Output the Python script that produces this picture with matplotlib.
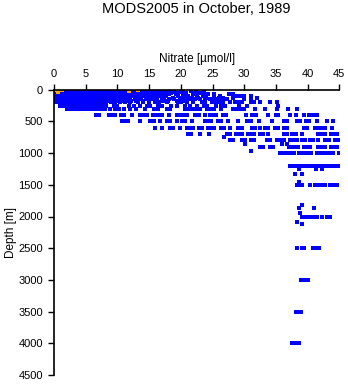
import matplotlib
matplotlib.use('Agg')
import matplotlib.pyplot as plt
import numpy as np

plt.rcParams['font.family'] = ['Liberation Sans', 'DejaVu Sans']

# nitrate profiles, grouped by sampling depth [m] -> nitrate [umol/l]
dense_a = [0.2, 0.6, 1.0, 1.4, 1.8, 2.2, 2.6, 3.0, 3.4, 3.8, 4.2, 4.6, 5.0,
           5.4, 5.8, 6.2, 6.6, 7.0, 7.4, 7.8, 8.2, 8.6, 9.0, 9.4, 9.8, 10.2]
dense_b = [0.2, 0.6, 1.0, 1.4, 1.8, 2.2, 2.6, 3.0, 3.4, 3.8, 4.2, 4.6, 5.0,
           5.4, 5.8, 6.2, 6.6, 7.0, 7.4, 7.8, 8.2]

lvl_0 = dense_a + [10.8, 11.4, 12.4, 13.0, 13.8, 14.5, 15.4, 16.2, 17.5]
lvl_10 = dense_a + [10.6, 11.2, 12.0, 12.8, 13.5, 14.2, 15.0, 16.0, 17.1, 18.3, 20.4]
lvl_20 = dense_a + [11.0, 11.8, 12.6, 13.4, 14.0, 14.8, 15.6, 16.6, 17.8, 19.0,
                    21.6, 23.6]
lvl_30 = dense_a + [10.7, 11.5, 12.3, 13.1, 14.4, 15.2, 16.3, 17.2, 18.7, 20.0, 22.4]
lvl_50 = dense_a + [10.9, 11.6, 12.5, 13.3, 14.1, 15.0, 15.8, 16.8, 17.6, 18.4,
                    19.5, 20.8, 22.0, 23.0]
lvl_75 = dense_a + [10.6, 11.3, 12.2, 13.0, 13.9, 14.7, 15.5, 16.4, 17.3, 18.1,
                    19.2, 20.5, 21.9, 23.7, 24.3, 25.3, 27.6, 28.2]
lvl_100 = dense_a + [10.8, 11.7, 12.6, 13.4, 14.3, 15.1, 15.9, 16.7, 17.6, 19.6,
                     20.3, 21.2, 22.5, 23.5, 26.2, 28.8, 29.5, 30.0, 31.0]
lvl_125 = dense_a + [10.5, 11.2, 12.0, 12.9, 13.7, 14.6, 15.4, 16.2, 17.4, 18.8,
                     19.9, 21.0, 21.8, 22.7, 24.0, 25.2, 26.0, 26.7, 28.3, 31.0, 32.0]
lvl_150 = dense_a + [10.9, 11.8, 12.7, 13.6, 14.5, 15.3, 16.1, 17.0, 18.2, 19.0,
                     20.5, 21.5, 22.2, 23.0, 23.8, 24.6, 25.5, 26.4, 27.3, 30.0]
lvl_175 = dense_a + [10.6, 11.4, 12.2, 13.0, 14.0, 15.0, 16.0, 17.2, 18.0, 19.4,
                     20.6, 22.0]
lvl_200 = dense_b + [9.0, 9.6, 10.4, 11.2, 12.0, 13.2, 14.0, 15.0, 16.0, 16.6,
                     17.8, 19.5, 20.0, 21.0, 22.0, 23.3, 23.8, 24.9, 25.5, 26.1,
                     26.7, 27.8, 28.6, 29.1, 29.6, 31.0, 31.5, 32.5, 34.0, 35.2]
lvl_250 = [1.0, 1.4, 1.8, 2.2, 2.6, 3.0, 3.4, 3.8, 4.2, 4.6, 5.0, 5.4, 5.8,
           6.2, 6.6, 7.0, 7.4, 7.8, 8.2, 9.4, 10.0, 11.8, 12.6, 13.5, 14.6,
           15.2, 16.4, 17.0, 18.5, 19.4, 20.6, 21.5, 22.5, 23.6, 24.2, 25.6,
           26.4, 27.0, 29.2, 30.4, 35.4]
lvl_300 = [2.0, 2.5, 3.0, 3.5, 4.0, 4.5, 5.0, 5.5, 6.0, 6.5, 7.0, 7.5, 8.0,
           8.8, 9.6, 10.2, 11.0, 12.0, 13.0, 14.4, 15.8, 16.4, 17.8, 18.3,
           20.7, 21.3, 21.9, 22.5, 23.0, 24.1, 24.7, 25.2, 26.3, 28.3, 28.9,
           29.4, 29.9, 31.7, 33.3, 35.2, 36.9, 38.3]
lvl_400 = [6.6, 7.1, 8.6, 9.1, 9.6, 10.6, 11.1, 12.3, 13.5,
           14.2, 14.7, 15.6, 16.1, 16.6, 17.1, 18.1, 19.4, 19.9,
           20.5, 21.0, 22.3, 22.8, 23.8, 24.6, 25.1, 25.6, 26.6,
           27.2, 30.3, 31.3, 31.9, 33.8, 35.0, 35.4, 37.3,
           38.1, 39.4, 40.2, 40.8, 41.5]
lvl_500 = [10.7, 11.2, 11.7, 13.6, 15.2, 15.7, 16.7, 17.8,
           18.3, 19.4, 20.2, 20.7, 21.7, 23.8, 24.3, 24.8,
           25.9, 26.4, 27.5, 29.0, 30.4, 31.0, 32.3, 34.4, 36.2, 36.7,
           38.3, 38.8, 39.7, 40.2, 41.5, 43.0, 44.0]
lvl_600 = [16.0, 17.0, 18.3, 18.8, 19.9, 21.0, 21.5, 22.0,
           22.8, 23.3, 24.3, 24.8, 25.3, 26.3, 26.8, 27.8,
           29.1, 29.6, 31.2, 31.7, 32.5, 33.3, 33.8, 34.9,
           35.4, 36.2, 36.7, 39.4, 39.9, 41.2, 41.7, 42.2, 42.7,
           43.8]
lvl_700 = [21.2, 21.6, 23.1, 24.4, 27.3, 27.8, 28.7, 29.1,
           29.6, 30.6, 31.0, 31.5, 32.5, 33.0, 33.8, 36.2,
           36.7, 37.6, 38.1, 39.1, 41.7, 42.2, 42.7, 43.7, 44.2, 44.7]
lvl_750 = [26.8]
lvl_800 = [27.8, 28.3, 29.6, 30.1, 31.0, 31.5, 33.6, 34.1, 35.2,
           35.7, 36.2, 37.2, 37.8, 38.3, 39.1, 39.6, 40.4, 40.9,
           41.7, 42.8, 43.3, 44.3, 44.8]
lvl_850 = [30.2, 36.0, 36.7]
lvl_900 = [32.5, 33.0, 34.1, 34.6, 37.0, 37.5, 38.0, 38.5, 39.4,
           39.9, 40.4, 41.7, 42.2, 42.7, 43.7, 44.2, 44.6]
lvl_970 = [31.0]
lvl_1000 = [35.7, 36.2, 36.7, 37.2, 37.8, 38.6, 39.1, 39.6, 40.1, 40.6,
            41.5, 42.0, 42.5, 43.0, 43.5, 44.0, 44.9]
lvl_1200 = [37.3, 37.8, 38.3, 38.8, 39.3, 39.9, 40.4, 41.0, 41.5, 42.0, 42.5,
            43.0, 43.5, 44.0, 44.5, 45.0]
lvl_1250 = [38.6, 41.4, 42.3]
lvl_1330 = [38.0, 39.1]
lvl_1450 = [38.6]
lvl_1500 = [38.3, 38.8, 39.1, 40.4, 41.2, 41.7, 42.1, 42.5, 42.8, 43.6, 44.1, 44.6]
lvl_1820 = [39.1]
lvl_1870 = [38.6, 41.0]
lvl_1950 = [38.8]
lvl_2000 = [39.1, 39.5, 39.9, 40.6, 41.0, 41.5, 42.3, 43.0, 43.6]
lvl_2080 = [38.4]
lvl_2120 = [39.1]
lvl_2500 = [38.3, 39.1, 39.5, 40.8, 41.1, 41.8]
lvl_3000 = [39.0, 39.3, 39.6, 40.0]
lvl_3500 = [38.1, 38.5, 38.9]
lvl_4000 = [37.5, 37.9, 38.2, 38.6]

levels = [(0, lvl_0), (10, lvl_10), (20, lvl_20), (30, lvl_30), (50, lvl_50),
          (75, lvl_75), (100, lvl_100), (125, lvl_125), (150, lvl_150),
          (175, lvl_175), (200, lvl_200), (250, lvl_250), (300, lvl_300),
          (400, lvl_400), (500, lvl_500), (600, lvl_600), (700, lvl_700),
          (750, lvl_750), (800, lvl_800), (850, lvl_850), (900, lvl_900),
          (970, lvl_970), (1000, lvl_1000), (1200, lvl_1200), (1250, lvl_1250),
          (1330, lvl_1330), (1450, lvl_1450), (1500, lvl_1500),
          (1820, lvl_1820), (1870, lvl_1870), (1950, lvl_1950),
          (2000, lvl_2000), (2080, lvl_2080), (2120, lvl_2120),
          (2500, lvl_2500), (3000, lvl_3000), (3500, lvl_3500),
          (4000, lvl_4000)]

# flagged surface samples
flag_no3 = [0.4, 0.8, 1.2, 0.7, 11.9, 13.2]
flag_depth = [10, 10, 10, 30, 20, 10]

no3 = np.concatenate([v for d, v in levels])
depth = np.concatenate([[d] * len(v) for d, v in levels])

fig = plt.figure(figsize=(3.48, 3.84), dpi=100)
ax = fig.add_axes([54 / 348, 1 - 375 / 384, 285.3 / 348, (375 - 89.7) / 384])

ax.plot(no3, depth, 's', color='#0000ff', markersize=2.3, markeredgewidth=0)
ax.plot(flag_no3, flag_depth, 's', color='#ffa500', markersize=2.3, markeredgewidth=0)

ax.set_xlim(0, 45)
ax.set_ylim(4500, 0)
ax.set_xticks(np.arange(0, 46, 5))
ax.set_yticks(np.arange(0, 4501, 500))

ax.xaxis.tick_top()
ax.xaxis.set_label_position('top')
ax.spines['right'].set_visible(False)
ax.spines['bottom'].set_visible(False)
for s in ['left', 'top']:
    ax.spines[s].set_linewidth(1.2)
ax.tick_params(direction='out', length=4, width=1.0, labelsize=8, pad=4)

ax.set_xlabel('Nitrate [\u00b5mol/l]', fontsize=8.5, labelpad=5)
ax.set_ylabel('Depth [m]', fontsize=8.5, labelpad=1)

fig.text(196.5 / 348, 1 - 13 / 384, 'MODS2005 in October, 1989', ha='center',
         va='baseline', fontsize=10.5)

fig.savefig('out.png', dpi=100)
